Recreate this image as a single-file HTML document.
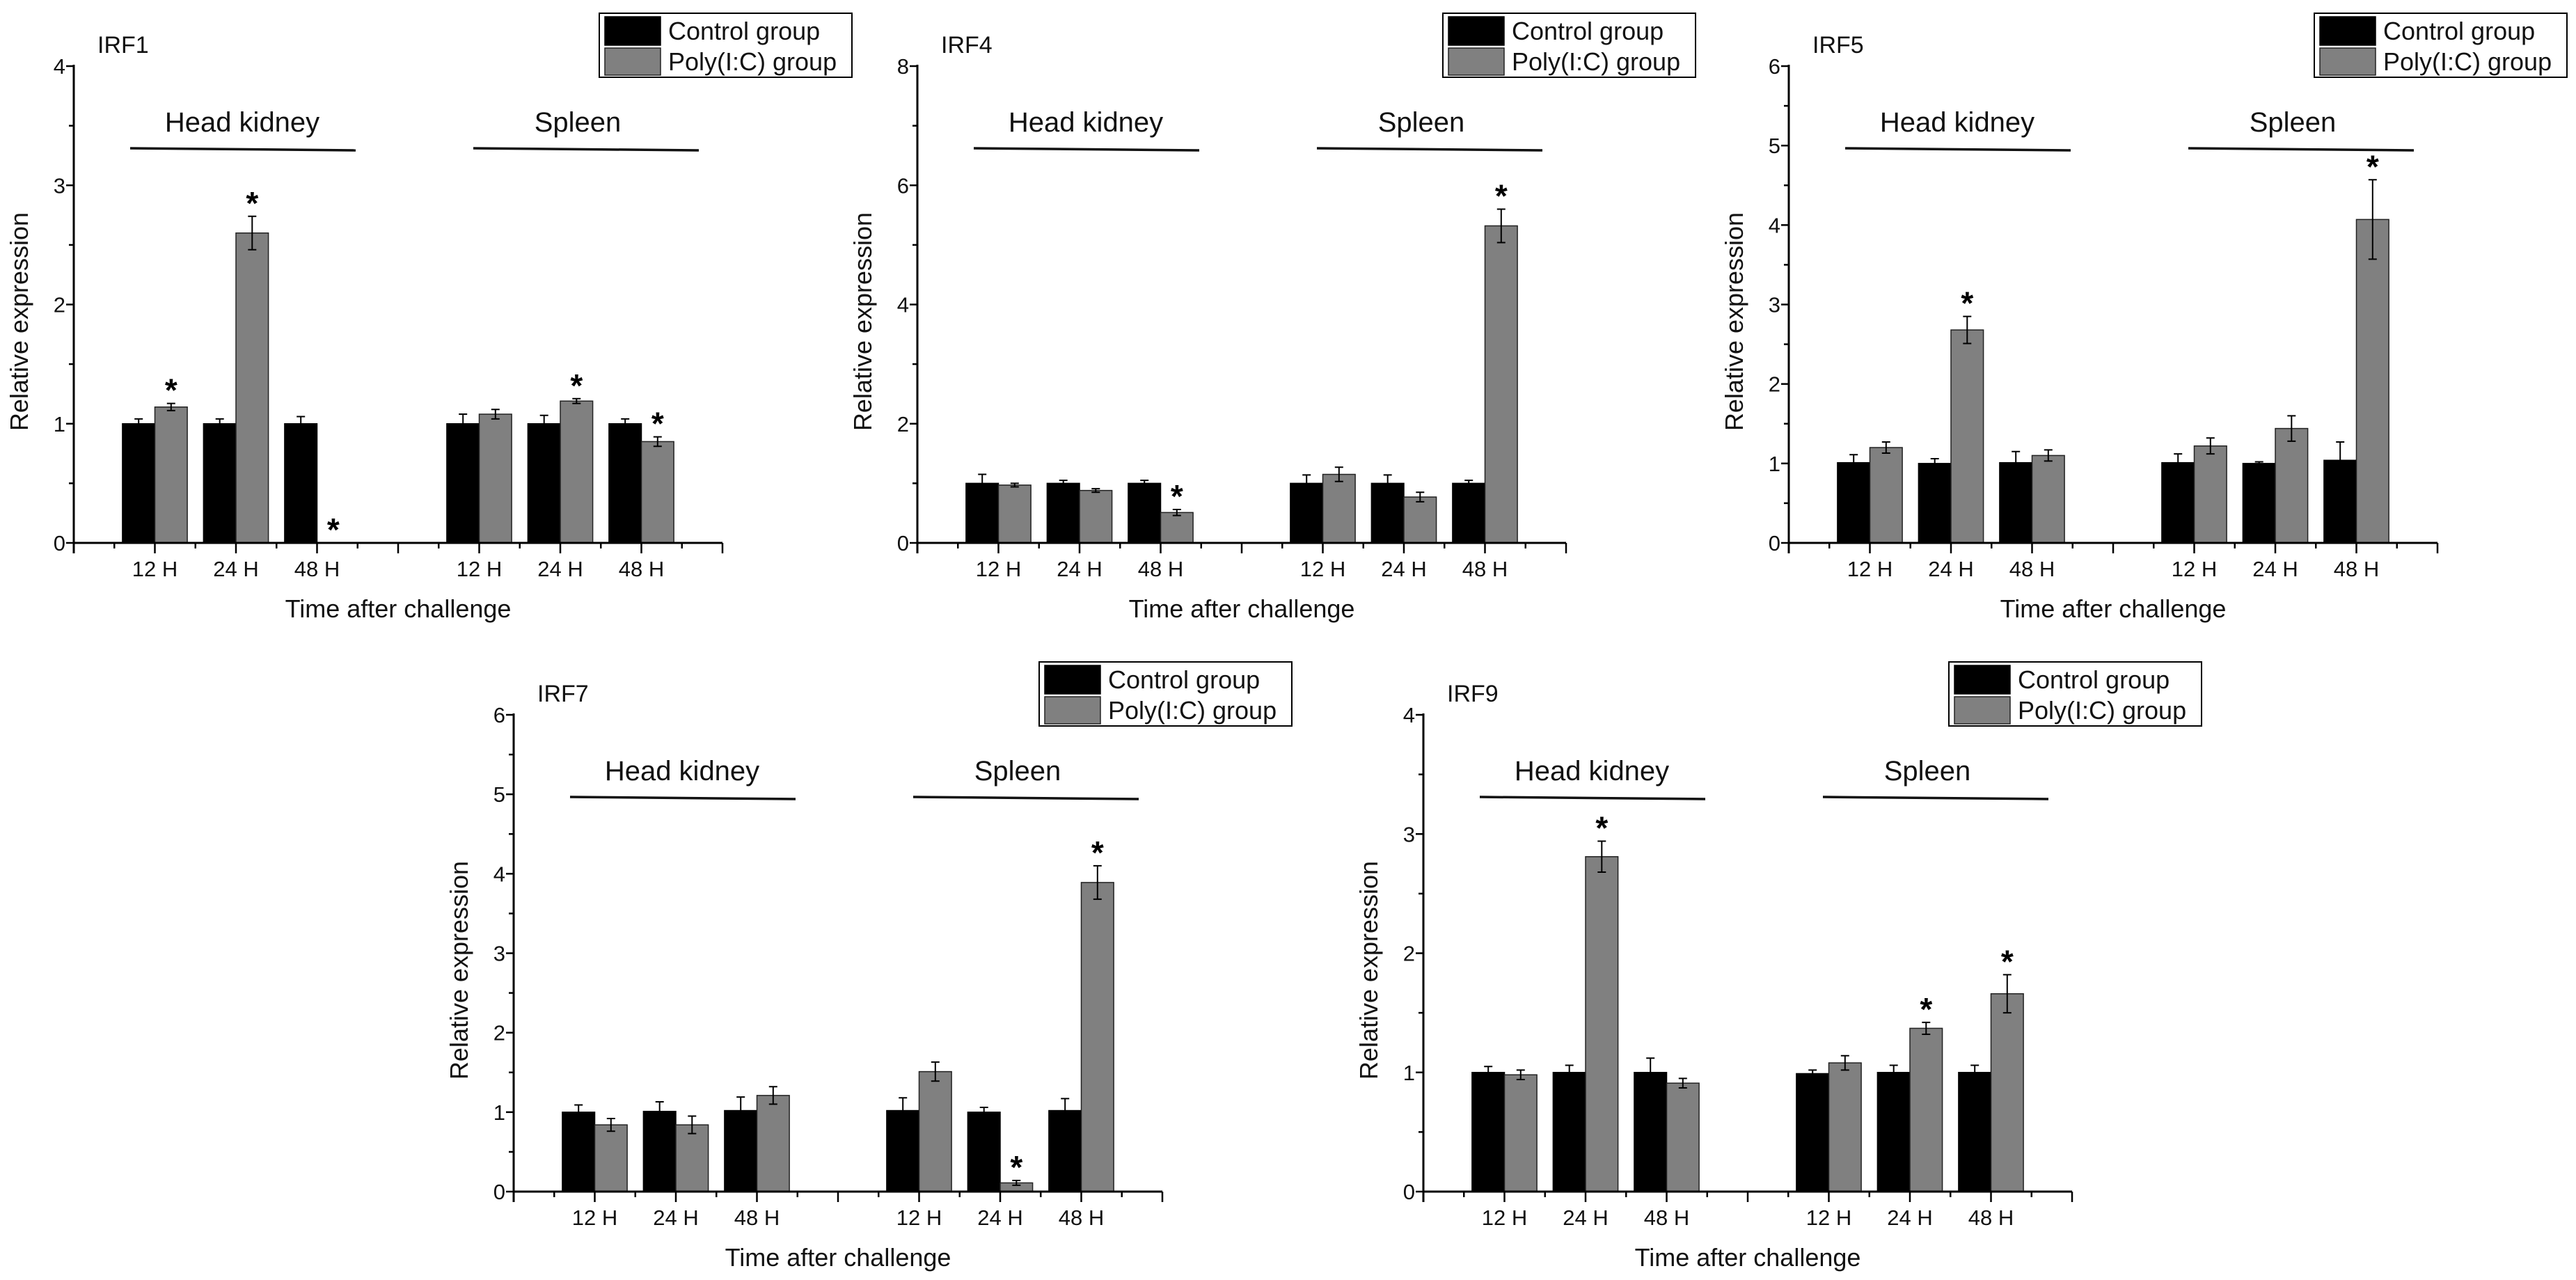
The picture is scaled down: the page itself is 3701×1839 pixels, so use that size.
<!DOCTYPE html>
<html><head><meta charset="utf-8"><style>
html,body{margin:0;padding:0;background:#fff;}
svg{display:block;font-family:"Liberation Sans",Arial,sans-serif;}
</style></head><body>
<svg id="fig" width="3701" height="1839" viewBox="0 0 3701 1839" xmlns="http://www.w3.org/2000/svg"></svg>
<script>
const categories = ["12 H","24 H","48 H","12 H","24 H","48 H"];
const tissues = ["Head kidney","Spleen"];
const seriesNames = ["Control group","Poly(I:C) group"];

const irf1Control = [1.0,1.0,1.0,1.0,1.0,1.0];
const irf1ControlErr = [0.04,0.04,0.06,0.08,0.07,0.04];
const irf1Poly = [1.14,2.6,0,1.08,1.19,0.85];
const irf1PolyErr = [0.03,0.14,0,0.04,0.02,0.04];
const irf1Stars = [1,1,1,0,1,1];

const irf4Control = [1.0,1.0,1.0,1.0,1.0,1.0];
const irf4ControlErr = [0.15,0.05,0.05,0.14,0.14,0.05];
const irf4Poly = [0.97,0.88,0.51,1.15,0.77,5.32];
const irf4PolyErr = [0.03,0.03,0.05,0.12,0.08,0.28];
const irf4Stars = [0,0,1,0,0,1];

const irf5Control = [1.01,1.0,1.01,1.01,1.0,1.04];
const irf5ControlErr = [0.1,0.06,0.14,0.11,0.02,0.23];
const irf5Poly = [1.2,2.68,1.1,1.22,1.44,4.07];
const irf5PolyErr = [0.07,0.17,0.07,0.1,0.16,0.5];
const irf5Stars = [0,1,0,0,0,1];

const irf7Control = [1.0,1.01,1.02,1.02,1.0,1.02];
const irf7ControlErr = [0.09,0.12,0.17,0.16,0.06,0.15];
const irf7Poly = [0.84,0.84,1.21,1.51,0.11,3.89];
const irf7PolyErr = [0.08,0.11,0.11,0.12,0.03,0.21];
const irf7Stars = [0,0,0,0,1,1];

const irf9Control = [1.0,1.0,1.0,0.99,1.0,1.0];
const irf9ControlErr = [0.05,0.06,0.12,0.03,0.06,0.06];
const irf9Poly = [0.98,2.81,0.91,1.08,1.37,1.66];
const irf9PolyErr = [0.04,0.13,0.04,0.06,0.05,0.16];
const irf9Stars = [0,1,0,0,1,1];

const catPos = [1,2,3,5,6,7];

const NS="http://www.w3.org/2000/svg";
const svg=document.getElementById('fig');
function mk(tag,attrs,parent){const e=document.createElementNS(NS,tag);for(const k in attrs)e.setAttribute(k,attrs[k]);(parent||svg).appendChild(e);return e;}

function panel(name,ox,oy,ymax,major,minor,ctrl,ctrlErr,poly,polyErr,stars){
  const g=mk('g',{transform:`translate(${ox},${oy})`});
  
  
  const ax=106, y0=780, yt=95, unit=116.5;
  const ys=v=>y0-(v/ymax)*(y0-yt);
  const xs=u=>ax+u*unit;
  // title
  let t=mk('text',{x:140,y:76,'font-size':34,fill:'#111'},g);t.textContent=name;
  
  
  // bars
  const bw=0.4*unit;
  for(let i=0;i<catPos.length;i++){
    const c=xs(catPos[i]);
    let r=mk('rect',{x:c-bw,y:ys(ctrl[i]),width:bw,height:y0-ys(ctrl[i]),fill:'#000',stroke:'#000','stroke-width':1.5},g);
    
    
    if(poly[i]>0){
      r=mk('rect',{x:c,y:ys(poly[i]),width:bw,height:y0-ys(poly[i]),fill:'#808080',stroke:'#222','stroke-width':1.5},g);
      
      
    }
    const eb=(cx,v,e)=>{
      if(e<=0)return;
      const p=mk('path',{d:`M${cx},${ys(v+e)}V${ys(v-e)}M${cx-6},${ys(v+e)}H${cx+6}M${cx-6},${ys(v-e)}H${cx+6}`,stroke:'#000','stroke-width':2,fill:'none'},g);
      
      
    };
    eb(c-bw/2,ctrl[i],ctrlErr[i]);
    eb(c+bw/2,poly[i],polyErr[i]);
    if(stars[i]){
      const s=mk('text',{x:c+bw/2,y:ys(poly[i]+polyErr[i])-3,'font-size':46,'font-weight':'bold','text-anchor':'middle',fill:'#000'},g);
      s.textContent='*';
      
      
    }
  }
  // axes
  mk('line',{x1:ax,y1:yt-2,x2:ax,y2:y0+15,stroke:'#000','stroke-width':3},g);
  mk('line',{x1:ax,y1:y0,x2:xs(8),y2:y0,stroke:'#000','stroke-width':3},g);
  for(let v=0;v<=ymax+1e-9;v+=minor){
    const isMaj=Math.abs(v/major-Math.round(v/major))<1e-6;
    mk('line',{x1:ax-(isMaj?11:7),y1:ys(v),x2:ax,y2:ys(v),stroke:'#000','stroke-width':2.5},g);
    if(isMaj){
      const tl=mk('text',{x:ax-12,y:ys(v)+11,'font-size':31,'text-anchor':'end',fill:'#111'},g);
      tl.textContent=String(Math.round(v));
      
      
    }
  }
  for(let k=0;k<=16;k++){
    const u=k/2, isInt=k%2===0;
    mk('line',{x1:xs(u),y1:y0,x2:xs(u),y2:y0+(isInt?15:8),stroke:'#000','stroke-width':2.5},g);
  }
  for(let i=0;i<categories.length;i++){
    const tl=mk('text',{x:xs(catPos[i]),y:828,'font-size':31,'text-anchor':'middle',fill:'#111'},g);
    tl.textContent=categories[i];
    
    
  }
  t=mk('text',{x:572,y:887,'font-size':36,'text-anchor':'middle',fill:'#111'},g);t.textContent='Time after challenge';
  
  
  t=mk('text',{x:0,y:0,'font-size':36,'text-anchor':'middle',fill:'#111',transform:'translate(40,462) rotate(-90)'},g);t.textContent='Relative expression';
  
  
  // tissue labels
  const tc=[348,830], lx=[[187,511],[680,1004]];
  for(let j=0;j<2;j++){
    t=mk('text',{x:tc[j],y:189,'font-size':40,'text-anchor':'middle',fill:'#111'},g);t.textContent=tissues[j];
    
    
    mk('line',{x1:lx[j][0],y1:213,x2:lx[j][1],y2:216,stroke:'#111','stroke-width':3.5},g);
  }
  // legend
  const lg=mk('g',{},g);
  
  
  mk('rect',{x:861,y:19,width:363,height:92,fill:'#fff',stroke:'#000','stroke-width':2},lg);
  mk('rect',{x:869,y:24,width:80,height:41,fill:'#000',stroke:'#000','stroke-width':1.5},lg);
  mk('rect',{x:869,y:69,width:80,height:39,fill:'#808080',stroke:'#222','stroke-width':1.5},lg);
  t=mk('text',{x:960,y:57,'font-size':36,fill:'#111'},lg);t.textContent=seriesNames[0];
  
  
  t=mk('text',{x:960,y:101,'font-size':36,fill:'#111'},lg);t.textContent=seriesNames[1];
  
  
}
panel('IRF1',0,0,4,1,0.5,irf1Control,irf1ControlErr,irf1Poly,irf1PolyErr,irf1Stars);
panel('IRF4',1212,0,8,2,1,irf4Control,irf4ControlErr,irf4Poly,irf4PolyErr,irf4Stars);
panel('IRF5',2464,0,6,1,0.5,irf5Control,irf5ControlErr,irf5Poly,irf5PolyErr,irf5Stars);
panel('IRF7',632,932,6,1,0.5,irf7Control,irf7ControlErr,irf7Poly,irf7PolyErr,irf7Stars);
panel('IRF9',1939,932,4,1,0.5,irf9Control,irf9ControlErr,irf9Poly,irf9PolyErr,irf9Stars);
</script>
</body></html>
